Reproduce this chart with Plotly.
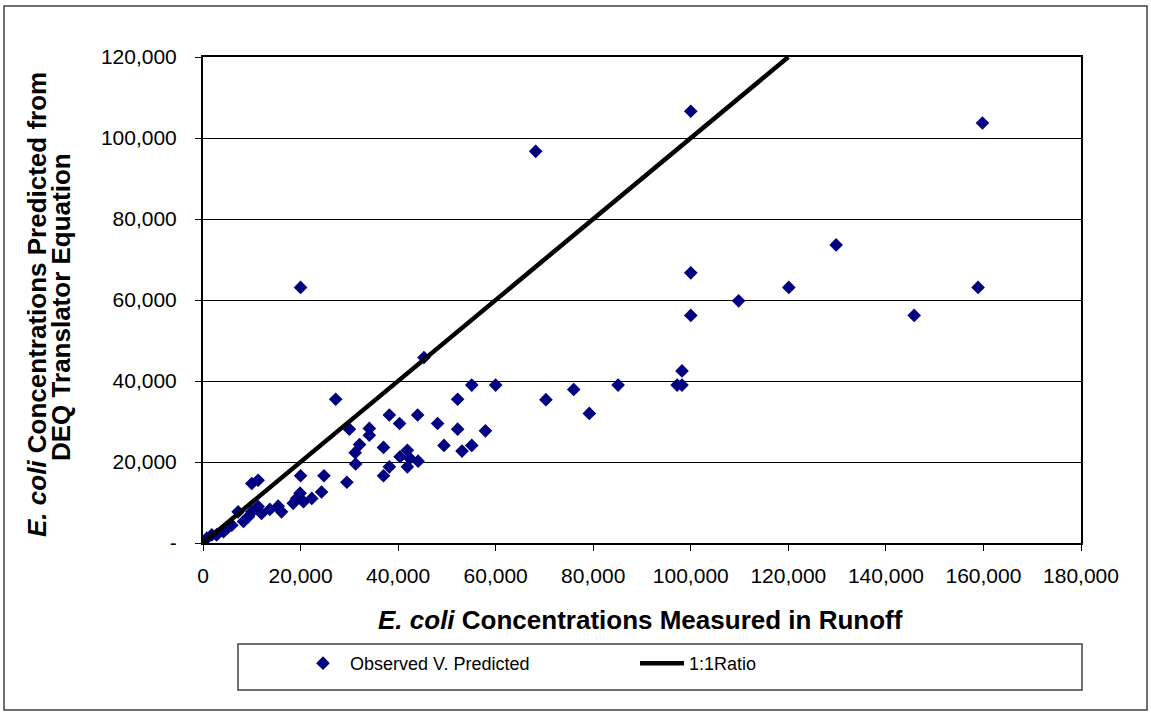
import plotly.graph_objects as go

# Measured vs. predicted E. coli concentrations (cfu/100 mL)
measured = [
    0, 800, 1800, 2800, 4200, 4900, 5900, 7200, 8300, 9300,
    10000, 10000, 11300, 11300, 12000, 13700, 15400, 16100, 18500, 19200,
    19900, 20600, 22300, 24300, 20000, 24800,
    27200, 29500, 30000, 31200, 31300, 32100, 34100, 34100, 37000, 37000,
    38200, 38200, 40300, 40400, 41900, 41900, 42400, 44100, 44000, 45300,
    48100, 49400, 52200, 52200, 53100, 55100, 55100, 57900, 60000,
    68200, 70300, 76000, 79200, 85100, 97200, 98200, 98200, 100000, 100000,
    100000, 109800, 120100, 129800, 145800, 158900, 159800, 20000,
]
predicted = [
    300, 1200, 2000, 2000, 2800, 3600, 4400, 7700, 5300, 6500,
    7700, 14700, 15500, 9000, 7300, 8300, 9100, 7700, 9800, 11000,
    12300, 10200, 11000, 12600, 16600, 16600,
    35500, 15000, 28100, 22300, 19500, 24300, 28300, 26600, 16600, 23600,
    18800, 31600, 29500, 21300, 22900, 18800, 20900, 20200, 31600, 45800,
    29500, 24100, 35500, 28100, 22700, 24100, 39000, 27700, 39000,
    96700, 35400, 37900, 32000, 39000, 39000, 39000, 42500, 106600, 66700,
    56200, 59800, 63100, 73600, 56200, 63100, 103700, 63100,
]

# 1:1 reference line
ratio_x = [0, 120000]
ratio_y = [0, 120000]

x_ticks = [0, 20000, 40000, 60000, 80000, 100000, 120000, 140000, 160000, 180000]
x_tick_text = ["0", "20,000", "40,000", "60,000", "80,000", "100,000",
               "120,000", "140,000", "160,000", "180,000"]
y_ticks = [0, 20000, 40000, 60000, 80000, 100000, 120000]
y_tick_text = ["-", "20,000", "40,000", "60,000", "80,000", "100,000", "120,000"]

NAVY = "#000080"
FONT = "Arial, Liberation Sans, sans-serif"

fig = go.Figure()
fig.add_trace(go.Scatter(
    x=measured, y=predicted, mode="markers", name="Observed V. Predicted",
    marker=dict(symbol="diamond", size=10.5, color=NAVY, line=dict(width=0)),
))
fig.add_trace(go.Scatter(
    x=ratio_x, y=ratio_y, mode="lines", name="1:1Ratio",
    line=dict(color="black", width=4.5),
))

W, H = 1151, 715
L, R, T, B = 203, 1081, 57, 543


def px(x):
    return (x - L) / (R - L)


def py(y):
    return (B - y) / (B - T)


fig.update_layout(
    width=W, height=H,
    margin=dict(l=L, r=W - R, t=T, b=H - B),
    paper_bgcolor="white", plot_bgcolor="white",
    font=dict(family=FONT, size=21, color="black"),
    showlegend=True,
    legend=dict(
        orientation="h", x=px(296), y=py(645), xanchor="left", yanchor="top",
        bgcolor="rgba(0,0,0,0)", borderwidth=0,
        entrywidth=280, entrywidthmode="pixels",
        itemwidth=44,
        font=dict(family=FONT, size=18),
        itemsizing="trace",
    ),
    xaxis=dict(
        range=[0, 180000], tickvals=x_ticks, ticktext=x_tick_text,
        showgrid=False, zeroline=False,
        showline=True, linecolor="black", linewidth=2, mirror=True,
        ticks="outside", ticklen=6, tickwidth=1, tickcolor="black",
        ticklabelstandoff=7,
        tickfont=dict(family=FONT, size=21),
    ),
    yaxis=dict(
        range=[0, 120000], tickvals=y_ticks, ticktext=y_tick_text,
        showgrid=True, gridcolor="black", gridwidth=1, zeroline=False,
        showline=True, linecolor="black", linewidth=2, mirror=True,
        ticks="outside", ticklen=6, tickwidth=1, tickcolor="black",
        ticklabelstandoff=14,
        tickfont=dict(family=FONT, size=21),
    ),
    shapes=[
        # outer chart frame
        dict(type="rect", xref="paper", yref="paper",
             x0=px(4), x1=px(1147), y0=py(710), y1=py(6),
             line=dict(color="#404040", width=1.5), fillcolor="rgba(0,0,0,0)", layer="below"),
        # legend frame
        dict(type="rect", xref="paper", yref="paper",
             x0=px(238), x1=px(1082), y0=py(690), y1=py(644),
             line=dict(color="#404040", width=1.5), fillcolor="rgba(0,0,0,0)"),
    ],
    annotations=[
        dict(text="<b><i>E. coli</i> Concentrations Measured in Runoff</b>",
             xref="paper", yref="paper", x=px(640), y=py(620),
             xanchor="center", yanchor="middle", showarrow=False,
             font=dict(family=FONT, size=26)),
        dict(text="<b><i>E. coli</i> Concentrations Predicted from</b>",
             xref="paper", yref="paper", x=px(37), y=py(305),
             xanchor="center", yanchor="middle", textangle=-90, showarrow=False,
             font=dict(family=FONT, size=26)),
        dict(text="<b>DEQ Translator Equation</b>",
             xref="paper", yref="paper", x=px(61), y=py(307),
             xanchor="center", yanchor="middle", textangle=-90, showarrow=False,
             font=dict(family=FONT, size=26)),
    ],
)

fig.write_html("out.html")
